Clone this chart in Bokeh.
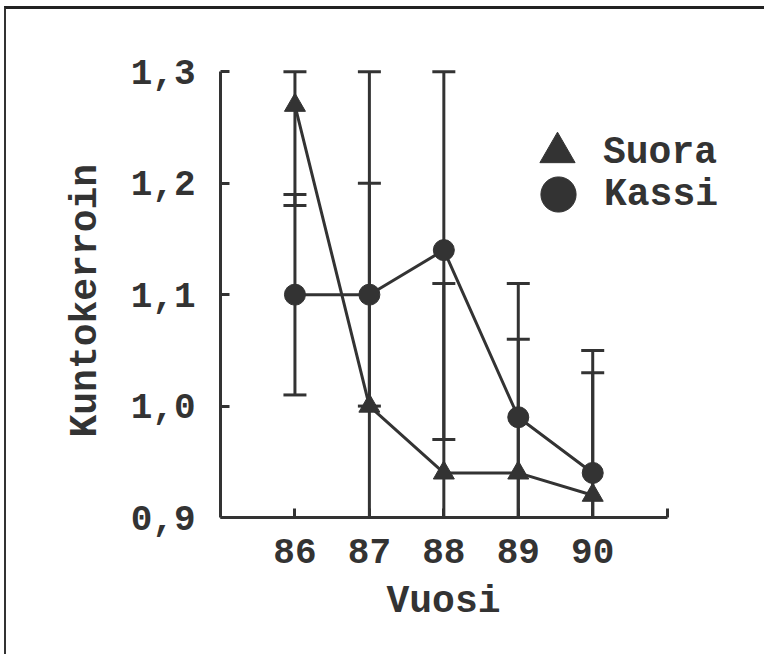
import numpy as np
from bokeh.plotting import figure
from bokeh.models import FixedTicker, CustomJSTickFormatter, Legend, LegendItem, Range1d, Title
from bokeh.embed import file_html
from bokeh.resources import INLINE

# ---- data ----
years = [86, 87, 88, 89, 90]
suora = [1.27, 1.00, 0.94, 0.94, 0.92]
kassi = [1.10, 1.10, 1.14, 0.99, 0.94]
suora_err = [0.09, 0.30, 0.17, 0.12, 0.11]
kassi_err = [0.09, 0.10, 0.17, 0.12, 0.11]
x_ticks = [86, 87, 88, 89, 90, 91]
y_ticks = [0.9, 1.0, 1.1, 1.2, 1.3]
x_title = "Vuosi"
y_title = "Kuntokerroin"
series_names = ["Suora", "Kassi"]

X_MIN, X_MAX = 85, 91
Y_MIN, Y_MAX = 0.9, 1.3
INK = "#333333"
FONT = "Liberation Mono"
FS_TICK = "36px"
FS_TITLE = "38px"

p = figure(width=758, height=645, output_backend="svg", toolbar_location=None,
           x_range=Range1d(X_MIN, 92.2), y_range=Range1d(Y_MIN, 1.303),
           frame_width=536, frame_height=449,
           min_border_left=214, min_border_top=59, min_border_right=8, min_border_bottom=137,
           styles={"border-top": "3px solid #222", "border-left": "2px solid #333",
                   "margin-top": "6px", "margin-left": "4px"})
p.outline_line_color = None
p.xgrid.visible = False
p.ygrid.visible = False
p.background_fill_color = "white"
p.border_fill_color = "white"

# axes
for ax in (p.xaxis[0], p.yaxis[0]):
    ax.axis_line_width = 3
    ax.axis_line_color = INK
    ax.major_tick_line_width = 3
    ax.major_tick_line_color = INK
    ax.major_tick_in = 9
    ax.major_tick_out = 0
    ax.minor_tick_line_color = None
    ax.major_label_text_font = FONT
    ax.major_label_text_font_style = "bold"
    ax.major_label_text_font_size = FS_TICK
    ax.major_label_text_color = INK

p.xaxis.ticker = FixedTicker(ticks=x_ticks)
p.xaxis.bounds = (X_MIN, X_MAX)
p.xaxis.formatter = CustomJSTickFormatter(code="return tick > 90 ? '' : tick.toString();")
p.xaxis.major_label_standoff = 21

p.yaxis.ticker = FixedTicker(ticks=y_ticks)
p.yaxis.bounds = (Y_MIN, Y_MAX)
p.yaxis.formatter = CustomJSTickFormatter(code="return tick.toFixed(1).replace('.', ',');")
p.yaxis.major_label_standoff = 25

# axis titles, placed as in the original
p.add_layout(Title(text=x_title, align="left", offset=166, standoff=25,
                   text_font=FONT, text_font_style="bold", text_font_size=FS_TITLE,
                   text_color=INK), "below")
p.add_layout(Title(text=y_title, align="left", offset=80, standoff=42,
                   text_font=FONT, text_font_style="bold", text_font_size=FS_TITLE,
                   text_color=INK), "left")

# error bars (clipped to axis range, caps where not clipped at bottom)
for vals, errs in ((suora, suora_err), (kassi, kassi_err)):
    v = np.array(vals); e = np.array(errs); x = np.array(years)
    lo = np.maximum(v - e, Y_MIN)
    hi = np.minimum(v + e, Y_MAX)
    p.segment(x0=x, y0=lo, x1=x, y1=hi, line_width=3, line_color=INK)
    p.scatter(x=x, y=hi, marker="dash", size=23, line_width=3, line_color=INK)
    m = (v - e) > Y_MIN
    p.scatter(x=x[m], y=lo[m], marker="dash", size=23, line_width=3, line_color=INK)

# lines and markers
p.line(years, suora, line_width=3, line_color=INK)
p.line(years, kassi, line_width=3, line_color=INK)
r_s = p.scatter(years, suora, marker="triangle", size=21, fill_color=INK, line_color=INK)
r_k = p.scatter(years, kassi, marker="circle", size=21, fill_color=INK, line_color=INK)

def mk_legend(name, rend, loc):
    lg = Legend(items=[LegendItem(label=name, renderers=[rend])], location=loc,
                glyph_width=88, glyph_height=88, padding=0, margin=0, spacing=0,
                label_standoff=2, border_line_color=None, background_fill_alpha=0,
                label_text_font=FONT, label_text_font_style="bold",
                label_text_font_size=FS_TITLE, label_text_color=INK)
    p.add_layout(lg, "center")

mk_legend(series_names[0], r_s, (293, 321))
mk_legend(series_names[1], r_k, (294, 279))

open("out.html", "w").write(file_html(p, INLINE))
